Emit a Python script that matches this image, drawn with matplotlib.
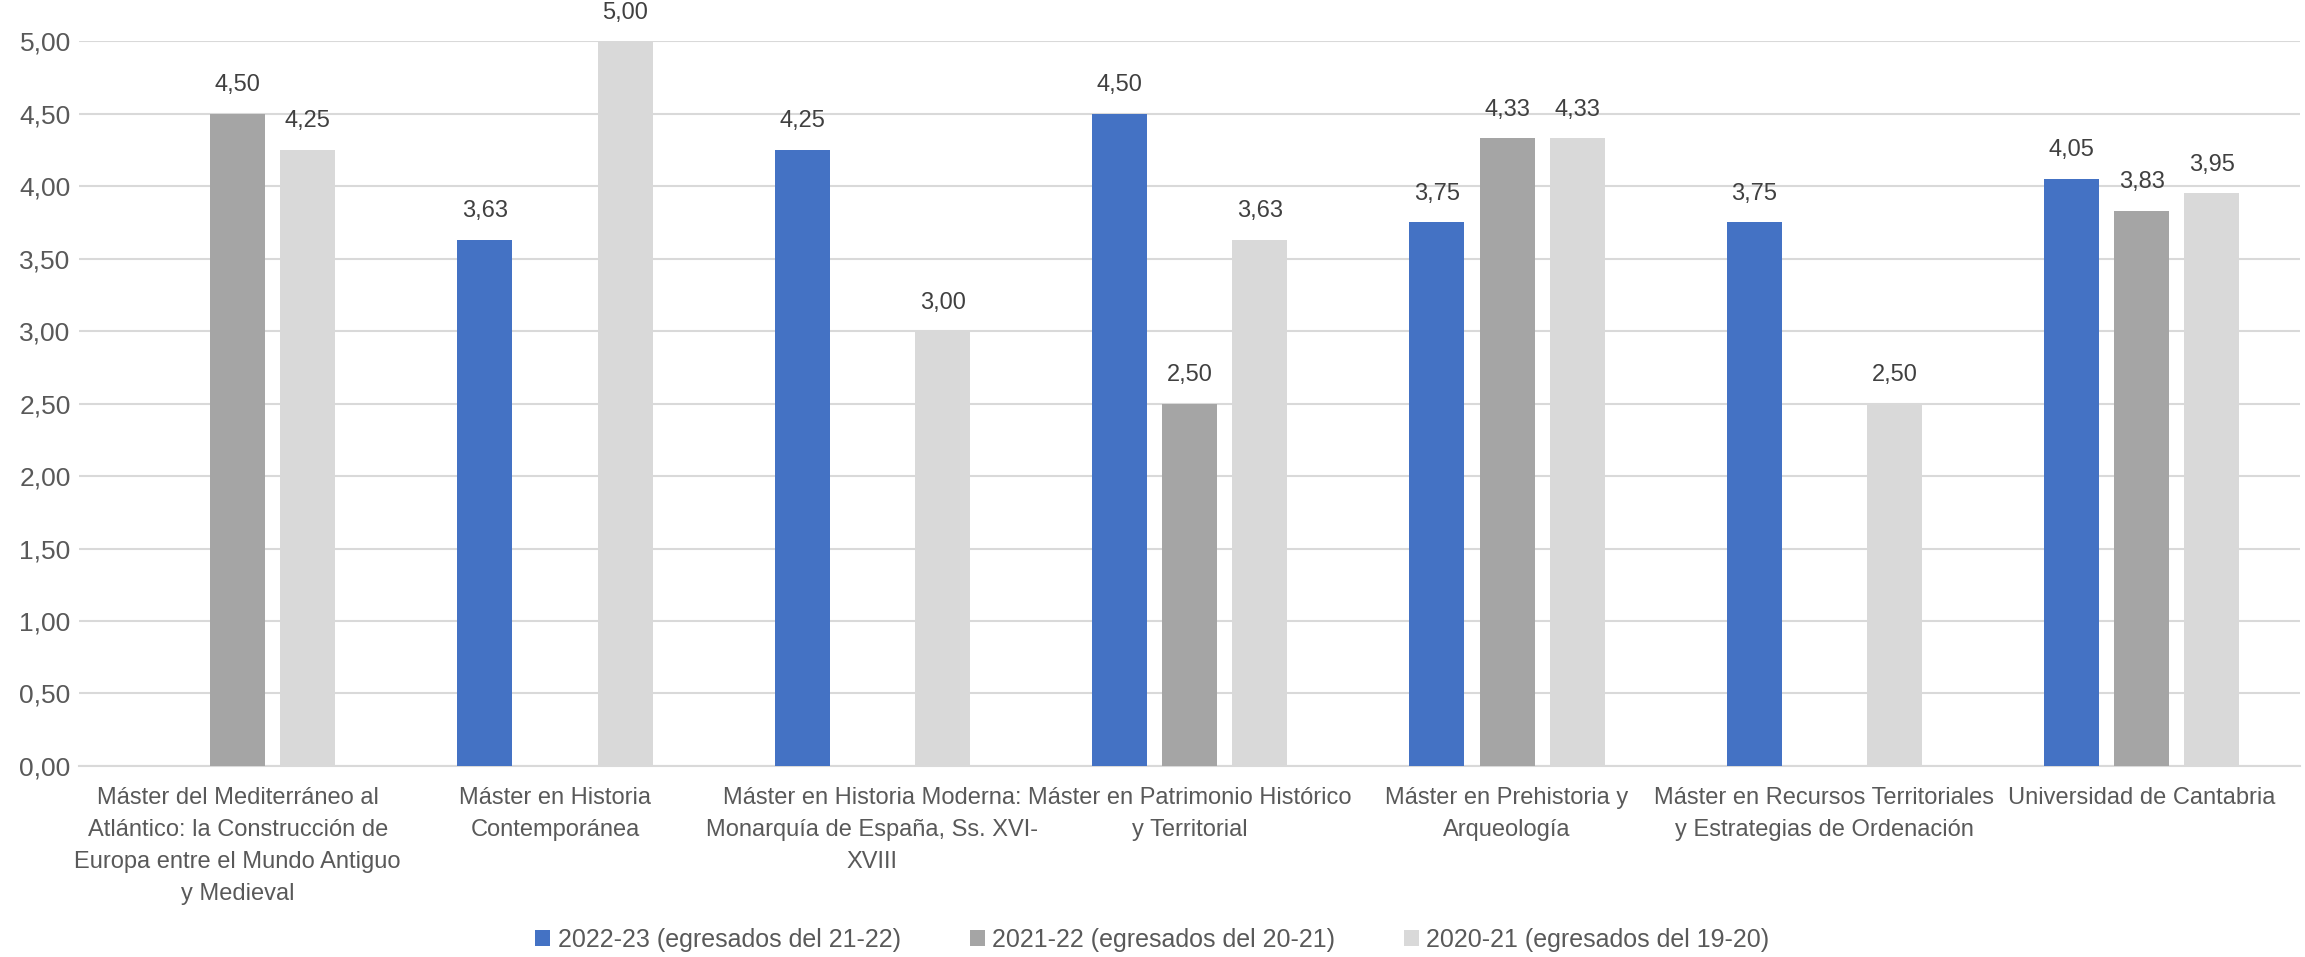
import numpy as np
import matplotlib.pyplot as plt

plt.rcParams['font.family'] = ['Liberation Sans', 'DejaVu Sans']

categories = [
    'Máster del Mediterráneo al\nAtlántico: la Construcción de\nEuropa entre el Mundo Antiguo\ny Medieval',
    'Máster en Historia\nContemporánea',
    'Máster en Historia Moderna:\nMonarquía de España, Ss. XVI-\nXVIII',
    'Máster en Patrimonio Histórico\ny Territorial',
    'Máster en Prehistoria y\nArqueología',
    'Máster en Recursos Territoriales\ny Estrategias de Ordenación',
    'Universidad de Cantabria',
]
series_names = ['2022-23 (egresados del 21-22)',
                '2021-22 (egresados del 20-21)',
                '2020-21 (egresados del 19-20)']
v2022 = [np.nan, 3.63, 4.25, 4.50, 3.75, 3.75, 4.05]
v2021 = [4.50, np.nan, np.nan, 2.50, 4.33, np.nan, 3.83]
v2020 = [4.25, 5.00, 3.00, 3.63, 4.33, 2.50, 3.95]
colors = ['#4472C4', '#A5A5A5', '#D9D9D9']
text_col = '#595959'

fig = plt.figure(figsize=(23.05, 9.57), dpi=100)
ax = fig.add_axes([0.0343, 0.1996, 0.9637, 0.7574])

x = np.arange(len(categories))
w = 0.173
step = 0.221
for i, (vals, name, c) in enumerate(zip([v2022, v2021, v2020], series_names, colors)):
    pos = x + (i - 1) * step
    ax.bar(pos, vals, width=w, color=c, label=name, zorder=3)
    for p, v in zip(pos, vals):
        if np.isnan(v):
            continue
        ax.text(p, v + 0.12, f'{v:.2f}'.replace('.', ','), ha='center', va='bottom',
                fontsize=17, color='#404040', clip_on=False)

ax.set_xlim(-0.5, len(categories) - 0.5)
ax.set_ylim(0, 5)
yt = np.arange(0, 5.01, 0.5)
ax.set_yticks(yt)
ax.set_yticklabels([f'{t:.2f}'.replace('.', ',') for t in yt])
ax.set_xticks(x)
ax.set_xticklabels(categories, fontsize=17, color=text_col, linespacing=1.6)
ax.tick_params(axis='y', labelsize=19, labelcolor=text_col, length=0, pad=6)
ax.tick_params(axis='x', length=0, pad=15)
ax.grid(axis='y', color='#D9D9D9', linewidth=1.5, zorder=0)
for s in ['top', 'right', 'left']:
    ax.spines[s].set_visible(False)
ax.spines['bottom'].set_color('#D9D9D9')
ax.spines['bottom'].set_linewidth(1.5)

fig.legend(loc='lower center', bbox_to_anchor=(0.5, -0.018), ncol=3, frameon=False,
           fontsize=18, labelcolor=text_col, handlelength=0.6, handleheight=0.6,
           handletextpad=0.3, columnspacing=2.75)

fig.savefig('out.png', dpi=100)
